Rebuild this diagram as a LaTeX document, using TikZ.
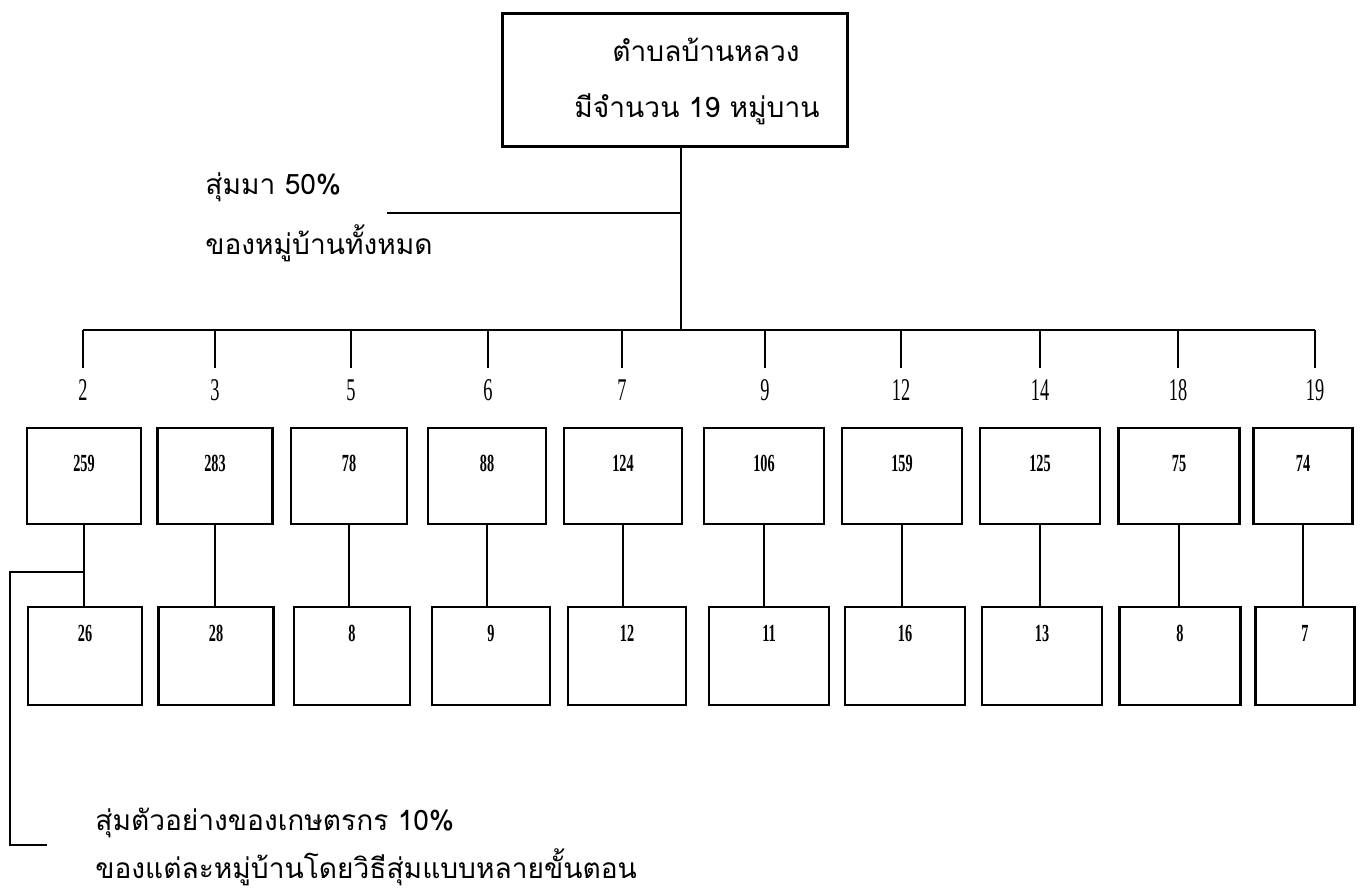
\documentclass[tikz,border=0pt]{standalone}
\usepackage{fontspec}
\newfontfamily\thaifont[Script=Thai]{Loma}
\newfontfamily\numfont[FakeStretch=0.58]{Liberation Serif}
\usetikzlibrary{positioning}

\begin{document}
\begin{tikzpicture}  % ------ Tambon Ban Luang sampling -----------
      [x={(0.02cm,0cm)},y={(0cm,-0.02cm)},
       box/.style={draw,line width=1.3pt,minimum height=1.92cm,inner sep=0pt},
       num/.style={font=\numfont\bfseries\fontsize{14}{14}\selectfont,inner sep=0pt},
       lbl/.style={font=\numfont\fontsize{18}{18}\selectfont,inner sep=0pt},
       thai/.style={font=\thaifont\fontsize{16}{19}\selectfont,inner sep=0pt},
       link/.style={line width=1pt}]
    \useasboundingbox (0,0) rectangle (1361,891);
    % top box
    \node[box,minimum width=6.9cm,minimum height=2.66cm] (tambon) at (675,80) {};
    \node[thai,anchor=base] (t1) at (706,62) {ตำบลบ้านหลวง};
    \node[thai,anchor=base] (t2) at (697,118) {มีจำนวน 19 หมู่บาน};
    \coordinate (split) at (681,213);
    \coordinate (mid) at (681,330);
    \draw[line width=1.4pt] (tambon.south -| split) -- (mid);
    \node[thai,anchor=base west] (s1) at (205,195) {สุ่มมา 50\%};
    \node[thai,anchor=base west] (s2) at (205,255) {ของหมู่บ้านทั้งหมด};
    \coordinate (s0) at (387,213);
    \draw[link] (s0) -- (split);
    % villages
    \foreach \i/\t/\xa/\xb/\w/\na/\nb/\v in {1/83/84/85/2.28/259/26/2,
        2/215/215/216/2.3/283/28/3, 3/351/349/352/2.32/78/8/5,
        4/488/487/491/2.36/88/9/6, 5/622/623/627/2.36/124/12/7,
        6/765/764/769/2.4/106/11/9, 7/901/902/905/2.4/159/16/12,
        8/1040/1040/1042/2.4/125/13/14, 9/1178/1179/1180/2.42/75/8/18,
        10/1315/1303/1305/1.98/74/7/19}{
      \coordinate (k\i) at (\t,330);
      \node[lbl] (v\i) at (\t,390) {\v};
      \draw[link] (k\i) -- ++(0,38);
      \node[box,minimum width=\w cm] (a\i) at (\xa,476) {};
      \node[num,below=0.56cm of a\i.north] (na\i) {\na};
      \node[box,minimum width=\w cm,minimum height=1.96cm] (b\i) at (\xb,656) {};
      \node[num,below=0.38cm of b\i.north] (nb\i) {\nb};
      \draw[link] (a\i.south) -- (a\i.south |- b\i.north);
    }
    \draw[line width=1.5pt] (k1) -- (k10);
    % 10% bracket
    \coordinate (c1) at (10,572);
    \coordinate (c2) at (10,845);
    \coordinate (c3) at (47,845);
    \draw[link] (a1.south |- c1) -- (c1) -- (c2) -- (c3);
    \node[thai,anchor=base west] (n1) at (95,830) {สุ่มตัวอย่างของเกษตรกร 10\%};
    \node[thai,anchor=base west] (n2) at (95,878) {ของแต่ละหมู่บ้านโดยวิธีสุ่มแบบหลายขั้นตอน};
\end{tikzpicture}
\end{document}
